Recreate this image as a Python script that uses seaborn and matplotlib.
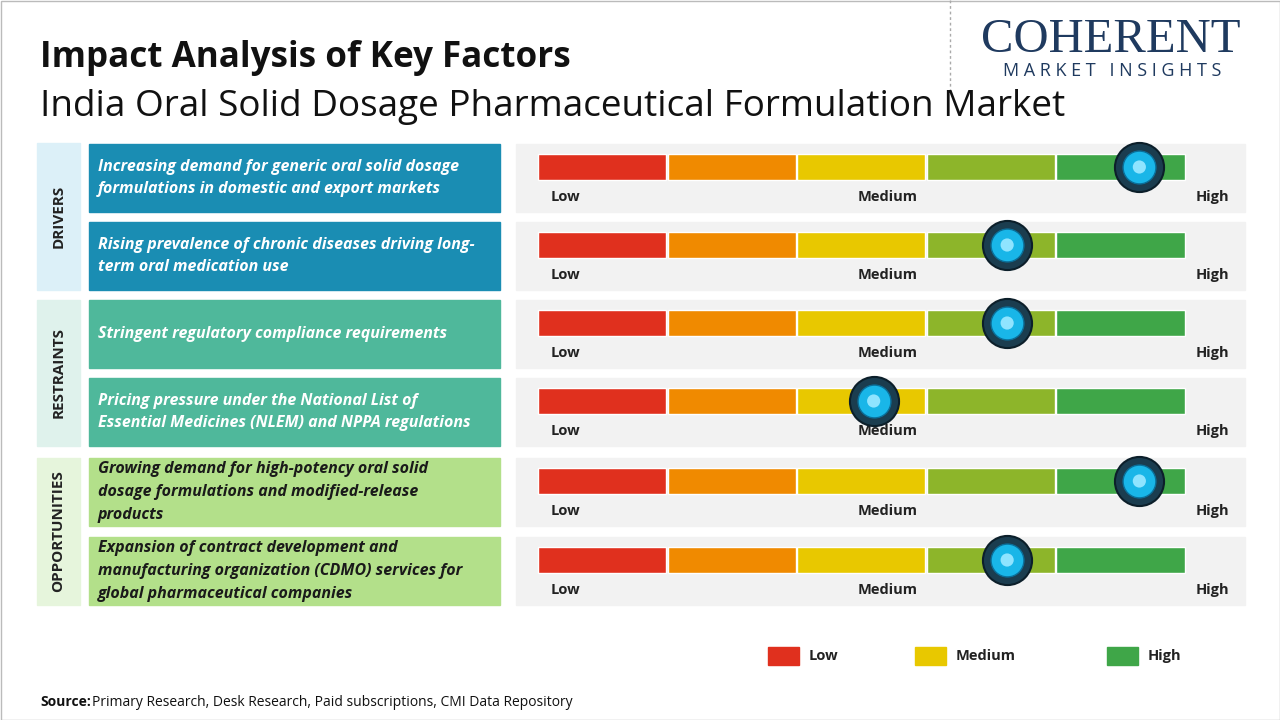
import matplotlib
matplotlib.use("Agg")
import matplotlib.pyplot as plt
import seaborn as sns
import pandas as pd
from matplotlib.patches import Rectangle

sns.set_theme(style="white")
plt.rcParams['font.family'] = ['Open Sans', 'DejaVu Sans']

factors = [
    "Increasing demand for generic oral solid dosage\nformulations in domestic and export markets",
    "Rising prevalence of chronic diseases driving long-\nterm oral medication use",
    "Stringent regulatory compliance requirements",
    "Pricing pressure under the National List of\nEssential Medicines (NLEM) and NPPA regulations",
    "Growing demand for high-potency oral solid\ndosage formulations and modified-release\nproducts",
    "Expansion of contract development and\nmanufacturing organization (CDMO) services for\nglobal pharmaceutical companies",
]
groups = ["DRIVERS", "DRIVERS", "RESTRAINTS", "RESTRAINTS", "OPPORTUNITIES", "OPPORTUNITIES"]
impact = [4.64, 3.62, 3.62, 2.59, 4.64, 3.62]  # on 0..5 scale
seg_colors = ["#e0301e", "#f08a00", "#e8c800", "#8db52a", "#3fa648"]
legend_labels = ["Low", "Medium", "High"]
legend_colors = ["#e0301e", "#e8c800", "#3fa648"]

group_style = {
    "DRIVERS": ("#dcf0f8", "#1a8db3", "white"),
    "RESTRAINTS": ("#dff2ec", "#4fb89b", "white"),
    "OPPORTUNITIES": ("#e6f5dc", "#b3e08a", "#1a1a1a"),
}

fig = plt.figure(figsize=(12.8, 7.2), dpi=100)
ax = fig.add_axes([0, 0, 1, 1])
ax.set_xlim(0, 1280); ax.set_ylim(720, 0); ax.axis("off")

ax.text(40, 58, "Impact Analysis of Key Factors", fontsize=25.2, fontweight="bold", va="center", color="#111")
ax.text(40, 107, "India Oral Solid Dosage Pharmaceutical Formulation Market", fontsize=26.6, va="center", color="#111")
ax.plot([950, 950], [0, 90], ls=(0, (2, 2)), color="#aaaaaa", lw=1)
ax.text(1111, 40, "COHERENT", fontsize=35, family="Liberation Serif", color="#1f3a5f", ha="center", va="center")
ax.text(1112, 71, "M A R K E T   I N S I G H T S", fontsize=13, color="#1f3a5f", ha="center", va="center")

row_tops = [144, 222, 300, 378, 458, 537]
row_h = 68
x0, seg_w = 538, 129.6
markers = []
for i, (txt, g, v) in enumerate(zip(factors, groups, impact)):
    t = row_tops[i]
    bg, box, tc = group_style[g]
    ax.add_patch(Rectangle((89, t), 411, row_h, color=box))
    ax.text(98, t + row_h / 2, txt, fontsize=11.5, fontstyle="italic", fontweight="bold", color=tc,
            va="center", linespacing=1.55)
    ax.add_patch(Rectangle((516, t), 729, row_h, color="#f2f2f2"))
    for k, c in enumerate(seg_colors):
        ax.barh(t + 23, seg_w - 1.5, left=x0 + k * seg_w, height=26, color=c)
    ax.text(551, t + 53, "Low", fontsize=10.5, fontweight="bold", color="#222", va="center")
    ax.text(888, t + 53, "Medium", fontsize=10.5, fontweight="bold", color="#222", va="center", ha="center")
    ax.text(1212, t + 53, "High", fontsize=10.5, fontweight="bold", color="#222", va="center", ha="center")
    markers.append((x0 + v * seg_w, t + 23))

for g, (top, bot) in {"DRIVERS": (143, 290), "RESTRAINTS": (300, 446), "OPPORTUNITIES": (458, 605)}.items():
    ax.add_patch(Rectangle((37, top), 43, bot - top, color=group_style[g][0]))
    ax.text(58.5, (top + bot) / 2, g, rotation=90, fontsize=11, fontweight="bold", color="#222",
            ha="center", va="center")

mdf = pd.DataFrame(markers, columns=["x", "y"])
sns.scatterplot(data=mdf, x="x", y="y", s=1250, color="#1b3d4f", edgecolor="#0c1f2a", linewidth=1.5, ax=ax, zorder=5, legend=False)
sns.scatterplot(data=mdf, x="x", y="y", s=560, color="#19b6e8", edgecolor="#0a6f99", linewidth=1, ax=ax, zorder=6, legend=False)
sns.scatterplot(data=mdf, x="x", y="y", s=90, color="#8fe4ff", edgecolor="none", ax=ax, zorder=7, legend=False)
ax.set_xlim(0, 1280); ax.set_ylim(720, 0); ax.axis("off")

for lx, lab, c in zip([768, 915, 1107], legend_labels, legend_colors):
    ax.add_patch(Rectangle((lx, 647), 31, 18, color=c))
    ax.text(lx + 41, 656, lab, fontsize=10.5, fontweight="bold", color="#222", va="center")

ax.text(40, 702, "Source:", fontsize=10, fontweight="bold", color="#111", va="center")
ax.text(92, 702, "Primary Research, Desk Research, Paid subscriptions, CMI Data Repository", fontsize=10, color="#111", va="center")
ax.add_patch(Rectangle((0.5, 0.5), 1279, 719, fill=False, edgecolor="#bbbbbb", lw=1))

fig.savefig("out.png", dpi=100)
